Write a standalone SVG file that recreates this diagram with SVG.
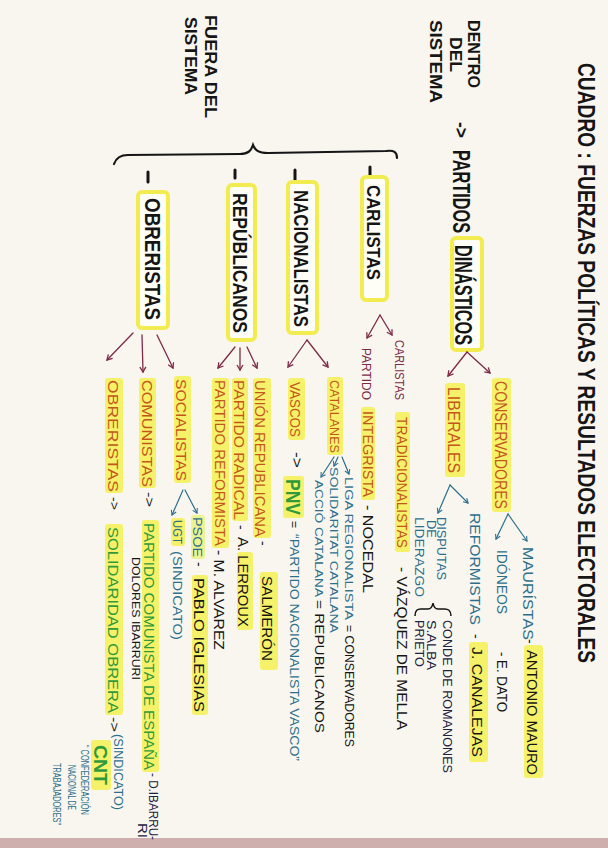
<svg xmlns="http://www.w3.org/2000/svg" width="608" height="848" viewBox="0 0 608 848">
<defs>
<style>
.b{font-family:"Liberation Sans",Arial,sans-serif;font-weight:bold;fill:#151515}
.t{font-family:"Liberation Sans",Arial,sans-serif}
.k{fill:#151515}
.o{fill:#c4561d}
.m{fill:#7d2a48}
.c{fill:#2b6f8c}
.g{fill:#2e9a3c;font-weight:bold}
.n{fill:#1c2340}
.hl{fill:#f5f152;opacity:.85}
.box{fill:#fefef7;stroke:#f2ec50;stroke-width:4}
.cm{fill:none;stroke:#7d2a48;stroke-width:1.3;stroke-linecap:round;marker-end:url(#am)}
.ct{fill:none;stroke:#2b6f8c;stroke-width:1.2;stroke-linecap:round;marker-end:url(#at)}
.dash{stroke:#151515;stroke-width:3;stroke-linecap:round}
</style>
<marker id="am" viewBox="0 0 8 8" refX="6" refY="4" markerWidth="8" markerHeight="8" markerUnits="userSpaceOnUse" orient="auto"><path d="M1,1 L6,4 L1,7" fill="none" stroke="#7d2a48" stroke-width="1.3"/></marker>
<marker id="at" viewBox="0 0 8 8" refX="6" refY="4" markerWidth="7" markerHeight="7" markerUnits="userSpaceOnUse" orient="auto"><path d="M1,1 L6,4 L1,7" fill="none" stroke="#2b6f8c" stroke-width="1.2"/></marker>
</defs>
<rect width="608" height="848" fill="#f8f6ef"/>
<rect x="0" y="838" width="608" height="10" fill="#cfaeae"/>
<g transform="translate(608,0) rotate(90)">
<g id="title"><text class="b" x="63" y="30" font-size="24" textLength="600" lengthAdjust="spacingAndGlyphs">CUADRO : FUERZAS POLÍTICAS Y RESULTADOS ELECTORALES</text></g>
<g id="dentro">
<text class="b" x="20" y="140" font-size="16" textLength="68" lengthAdjust="spacingAndGlyphs">DENTRO</text>
<text class="b" x="37" y="158" font-size="16" textLength="35" lengthAdjust="spacingAndGlyphs">DEL</text>
<text class="b" x="20" y="178" font-size="16" textLength="83" lengthAdjust="spacingAndGlyphs">SISTEMA</text>
</g>
<g id="fuera">
<text class="b" x="15" y="403" font-size="17" textLength="103" lengthAdjust="spacingAndGlyphs">FUERA DEL</text>
<text class="b" x="17" y="423" font-size="17" textLength="78" lengthAdjust="spacingAndGlyphs">SISTEMA</text>
</g>
<g id="dinasticos">
<text class="b" x="122" y="153" font-size="18" textLength="16" lengthAdjust="spacingAndGlyphs">-&gt;</text>
<text class="b" x="150" y="155" font-size="23" textLength="83" lengthAdjust="spacingAndGlyphs">PARTIDOS</text>
<rect class="box" x="238" y="126" width="112" height="30" rx="4"/>
<text class="b" x="245" y="153" font-size="23" textLength="100" lengthAdjust="spacingAndGlyphs">DINÁSTICOS</text>
</g>
<g id="conservadores">
<rect class="hl" x="378" y="97" width="134" height="19" rx="3"/>
<text class="t o" x="381" y="113" font-size="17" textLength="128" lengthAdjust="spacingAndGlyphs">CONSERVADORES</text>
</g>
<g id="liberales">
<rect class="hl" x="383" y="143" width="94" height="20" rx="3"/>
<text class="t o" x="387" y="160" font-size="17" textLength="86" lengthAdjust="spacingAndGlyphs">LIBERALES</text>
</g>
<g id="mauristas">
<text class="t c" x="547" y="85" font-size="15" textLength="93" lengthAdjust="spacingAndGlyphs">MAURÍSTAS</text>
<text class="t k" x="639" y="83" font-size="14">-</text>
<rect class="hl" x="645" y="65" width="133" height="19" rx="3"/>
<text class="t k" x="650" y="81" font-size="14" textLength="125" lengthAdjust="spacingAndGlyphs">ANTONIO MAURO</text>
</g>
<g id="idoneos">
<text class="t c" x="550" y="111" font-size="14" textLength="64" lengthAdjust="spacingAndGlyphs">IDÓNEOS</text>
<text class="t k" x="652" y="111" font-size="14" textLength="60" lengthAdjust="spacingAndGlyphs">- E. DATO</text>
</g>
<g id="reformistas">
<text class="t c" x="513" y="138" font-size="15" textLength="112" lengthAdjust="spacingAndGlyphs">REFORMISTAS</text>
<text class="t k" x="634" y="137" font-size="14">-</text>
<rect class="hl" x="642" y="120" width="120" height="19" rx="3"/>
<text class="t k" x="647" y="136" font-size="15" textLength="110" lengthAdjust="spacingAndGlyphs">J. CANALEJAS</text>
</g>
<g id="disputas">
<text class="t c" x="517" y="171" font-size="12" textLength="63" lengthAdjust="spacingAndGlyphs">DISPUTAS</text>
<text class="t c" x="520" y="181" font-size="12" textLength="18" lengthAdjust="spacingAndGlyphs">DE</text>
<text class="t c" x="517" y="193" font-size="12" textLength="80" lengthAdjust="spacingAndGlyphs">LIDERAZGO</text>
<path d="M616 157 Q608 157 609 165 L609 170 Q609 174 603 175 Q609 176 609 180 L609 186 Q608 193 616 193" fill="none" stroke="#151515" stroke-width="1.5"/>
<text class="t n" x="620" y="165" font-size="12" textLength="153" lengthAdjust="spacingAndGlyphs">CONDE DE ROMANONES</text>
<text class="t n" x="620" y="181" font-size="12" textLength="50" lengthAdjust="spacingAndGlyphs">S.ALBA</text>
<text class="t n" x="620" y="193" font-size="12" textLength="47" lengthAdjust="spacingAndGlyphs">PRIETO</text>
</g>
<g id="carlistas">
<line class="dash" x1="167" y1="238" x2="175" y2="238"/>
<rect class="box" x="177" y="221" width="123" height="25" rx="4"/>
<text class="b" x="185" y="241" font-size="18" textLength="95" lengthAdjust="spacingAndGlyphs">CARLISTAS</text>
</g>
<g id="nacionalistas">
<line class="dash" x1="170" y1="313" x2="180" y2="313"/>
<rect class="box" x="182" y="291" width="151" height="29" rx="4"/>
<text class="b" x="190" y="314" font-size="21" textLength="137" lengthAdjust="spacingAndGlyphs">NACIONALISTAS</text>
</g>
<g id="republicanos">
<line class="dash" x1="170" y1="373" x2="178" y2="373"/>
<rect class="box" x="185" y="353" width="155" height="27" rx="4"/>
<text class="b" x="193" y="375" font-size="21" textLength="140" lengthAdjust="spacingAndGlyphs">REPÚBLICANOS</text>
</g>
<g id="obreristas">
<line class="dash" x1="172" y1="460" x2="182" y2="460"/>
<rect class="box" x="192" y="440" width="136" height="30" rx="4"/>
<text class="b" x="198" y="463" font-size="22" textLength="122" lengthAdjust="spacingAndGlyphs">OBRERISTAS</text>
</g>
<g id="tradicionalistas">
<text class="t m" x="340" y="213" font-size="12" textLength="60" lengthAdjust="spacingAndGlyphs">CARLISTAS</text>
<rect class="hl" x="412" y="198" width="140" height="15" rx="3"/>
<text class="t o" x="417" y="211" font-size="14" textLength="131" lengthAdjust="spacingAndGlyphs">TRADICIONALISTAS</text>
<text class="t k" x="567" y="211" font-size="14" textLength="163" lengthAdjust="spacingAndGlyphs">- VÁZQUEZ DE MELLA</text>
</g>
<g id="integrista">
<text class="t m" x="348" y="246" font-size="12" textLength="52" lengthAdjust="spacingAndGlyphs">PARTIDO</text>
<rect class="hl" x="407" y="233" width="93" height="14" rx="3"/>
<text class="t o" x="411" y="245" font-size="14" textLength="86" lengthAdjust="spacingAndGlyphs">INTEGRISTA</text>
<text class="t k" x="505" y="245" font-size="14" textLength="88" lengthAdjust="spacingAndGlyphs">- NOCEDAL</text>
</g>
<g id="catalanes">
<rect class="hl" x="377" y="265" width="78" height="16" rx="3"/>
<text class="t o" x="380" y="278" font-size="13" textLength="73" lengthAdjust="spacingAndGlyphs">CATALANES</text>
<text class="t c" x="477" y="263" font-size="11" textLength="143" lengthAdjust="spacingAndGlyphs">LIGA REGIONALISTA</text>
<text class="t k" x="625" y="263" font-size="12" textLength="122" lengthAdjust="spacingAndGlyphs">= CONSERVADORES</text>
<text class="t c" x="467" y="278" font-size="11" textLength="166" lengthAdjust="spacingAndGlyphs">SOLIDARITAT CATALANA</text>
<text class="t c" x="480" y="293" font-size="11" textLength="117" lengthAdjust="spacingAndGlyphs">ACCIÓ CATALANA</text>
<text class="t k" x="600" y="293" font-size="12" textLength="133" lengthAdjust="spacingAndGlyphs">= REPUBLICANOS</text>
</g>
<g id="vascos">
<rect class="hl" x="378" y="303" width="62" height="17" rx="3"/>
<text class="t o" x="382" y="318" font-size="15" textLength="55" lengthAdjust="spacingAndGlyphs">VASCOS</text>
<text class="t k" x="452" y="316" font-size="14" textLength="16" lengthAdjust="spacingAndGlyphs">-&gt;</text>
<rect class="hl" x="476" y="304" width="42" height="21" rx="3"/>
<text class="t g" x="479" y="322" font-size="20" textLength="36" lengthAdjust="spacingAndGlyphs">PNV</text>
<text class="t k" x="521" y="318" font-size="12">=</text>
<text class="t c" x="534" y="318" font-size="12" textLength="227" lengthAdjust="spacingAndGlyphs">“PARTIDO NACIONALISTA VASCO”</text>
</g>
<g id="union">
<rect class="hl" x="378" y="337" width="160" height="18" rx="3"/>
<text class="t o" x="380" y="353" font-size="15" textLength="157" lengthAdjust="spacingAndGlyphs">UNIÓN REPUBLICANA</text>
<text class="t k" x="541" y="350" font-size="14">-</text>
<rect class="hl" x="572" y="330" width="98" height="18" rx="3"/>
<text class="t k" x="576" y="346" font-size="14" textLength="85" lengthAdjust="spacingAndGlyphs">SALMERÓN</text>
</g>
<g id="radical">
<rect class="hl" x="378" y="360" width="143" height="16" rx="3"/>
<text class="t o" x="380" y="374" font-size="15" textLength="140" lengthAdjust="spacingAndGlyphs">PARTIDO RADICAL</text>
<text class="t k" x="525" y="372" font-size="14">-</text>
<rect class="hl" x="552" y="355" width="78" height="16" rx="3"/>
<text class="t k" x="537" y="370" font-size="14" textLength="90" lengthAdjust="spacingAndGlyphs">A. LERROUX</text>
</g>
<g id="reformista">
<rect class="hl" x="378" y="379" width="170" height="17" rx="3"/>
<text class="t o" x="380" y="393" font-size="15" textLength="166" lengthAdjust="spacingAndGlyphs">PARTIDO REFORMISTA</text>
<text class="t k" x="550" y="394" font-size="14" textLength="100" lengthAdjust="spacingAndGlyphs">- M. ALVAREZ</text>
</g>
<g id="socialistas">
<rect class="hl" x="376" y="417" width="107" height="17" rx="3"/>
<text class="t o" x="379" y="432" font-size="15" textLength="102" lengthAdjust="spacingAndGlyphs">SOCIALISTAS</text>
<rect x="515" y="403" width="44" height="14" rx="3" fill="#e9f27a" opacity=".8"/>
<text class="t c" x="517" y="415" font-size="13" textLength="40" lengthAdjust="spacingAndGlyphs">PSOE</text>
<text class="t k" x="562" y="414" font-size="14">-</text>
<rect class="hl" x="575" y="400" width="140" height="16" rx="3"/>
<text class="t k" x="578" y="414" font-size="14" textLength="134" lengthAdjust="spacingAndGlyphs">PABLO IGLESIAS</text>
<rect class="hl" x="518" y="423" width="28" height="14" rx="3"/>
<text class="t c" x="520" y="435" font-size="13" textLength="24" lengthAdjust="spacingAndGlyphs">UGT</text>
<text class="t c" x="551" y="435" font-size="12" textLength="89" lengthAdjust="spacingAndGlyphs">(SINDICATO)</text>
</g>
<g id="comunistas">
<rect class="hl" x="378" y="452" width="110" height="17" rx="3"/>
<text class="t o" x="380" y="466" font-size="15" textLength="107" lengthAdjust="spacingAndGlyphs">COMUNISTAS</text>
<text class="t k" x="492" y="463" font-size="12" textLength="15" lengthAdjust="spacingAndGlyphs">-&gt;</text>
<rect class="hl" x="520" y="449" width="252" height="17" rx="3"/>
<text class="t g" style="font-weight:normal" x="523" y="464" font-size="14" textLength="247" lengthAdjust="spacingAndGlyphs">PARTIDO COMUNISTA DE ESPAÑA</text>
<text class="t n" x="773" y="459" font-size="12" textLength="67" lengthAdjust="spacingAndGlyphs">- D.IBARRU-</text>
<text class="t n" x="823" y="470" font-size="12" textLength="15" lengthAdjust="spacingAndGlyphs">RI</text>
<text class="t k" x="557" y="476" font-size="11" textLength="123" lengthAdjust="spacingAndGlyphs">DOLORES IBARRURI</text>
</g>
<g id="obrerismo">
<rect class="hl" x="378" y="485" width="115" height="18" rx="3"/>
<text class="t o" x="380" y="500" font-size="15" textLength="112" lengthAdjust="spacingAndGlyphs">OBRERISTAS</text>
<text class="t k" x="497" y="498" font-size="12" textLength="13" lengthAdjust="spacingAndGlyphs">-&gt;</text>
<rect class="hl" x="524" y="485" width="191" height="18" rx="3"/>
<text class="t g" style="font-weight:normal" x="527" y="500" font-size="15" textLength="186" lengthAdjust="spacingAndGlyphs">SOLIDARIDAD OBRERA</text>
<text class="t k" x="717" y="498" font-size="12" textLength="15" lengthAdjust="spacingAndGlyphs">-&gt;</text>
<text class="t c" x="734" y="494" font-size="12" textLength="76" lengthAdjust="spacingAndGlyphs">(SINDICATO)</text>
<rect class="hl" x="740" y="497" width="50" height="20" rx="3"/>
<text class="t g" x="745" y="514" font-size="19" textLength="40" lengthAdjust="spacingAndGlyphs">CNT</text>
<text class="t c" x="745" y="527" font-size="10" textLength="70" lengthAdjust="spacingAndGlyphs">“ CONFEDERACIÓN</text>
<text class="t c" x="765" y="540" font-size="10" textLength="45" lengthAdjust="spacingAndGlyphs">NACIONAL DE</text>
<text class="t c" x="763" y="555" font-size="10" textLength="62" lengthAdjust="spacingAndGlyphs">TRABAJADORES”</text>
</g>
<g id="connectors">
<path d="M158 211 C152 211 150 214 151 222 L153 340 C153 350 150 353 145 355 C151 357 154 360 154 368 L155 480 C155 488 158 492 164 494" fill="none" stroke="#151515" stroke-width="2.2" stroke-linecap="round"/>
<path class="cm" d="M352 141 L376 160"/>
<path class="cm" d="M352 141 L373 118"/>
<path class="ct" d="M514 100 L541 81"/>
<path class="ct" d="M514 100 L539 112"/>
<path class="ct" d="M485 158 L503 140"/>
<path class="ct" d="M485 158 L513 170"/>
<path class="cm" d="M315 228 L338 241"/>
<path class="cm" d="M315 228 L335 216"/>
<path class="cm" d="M340 301 L367 320"/>
<path class="cm" d="M340 301 L367 280"/>
<path class="cm" d="M347 373 L368 390"/>
<path class="cm" d="M348 368 L370 368"/>
<path class="cm" d="M347 361 L368 351"/>
<path class="cm" d="M333 475 L360 501"/>
<path class="cm" d="M335 466 L372 465"/>
<path class="cm" d="M335 451 L368 435"/>
<path class="ct" d="M457 266 L474 259"/>
<path class="ct" d="M457 270 L466 274"/>
<path class="ct" d="M457 274 L477 287"/>
<path class="ct" d="M490 423 L513 411"/>
<path class="ct" d="M490 425 L515 436"/>
</g>
</g>
</svg>
